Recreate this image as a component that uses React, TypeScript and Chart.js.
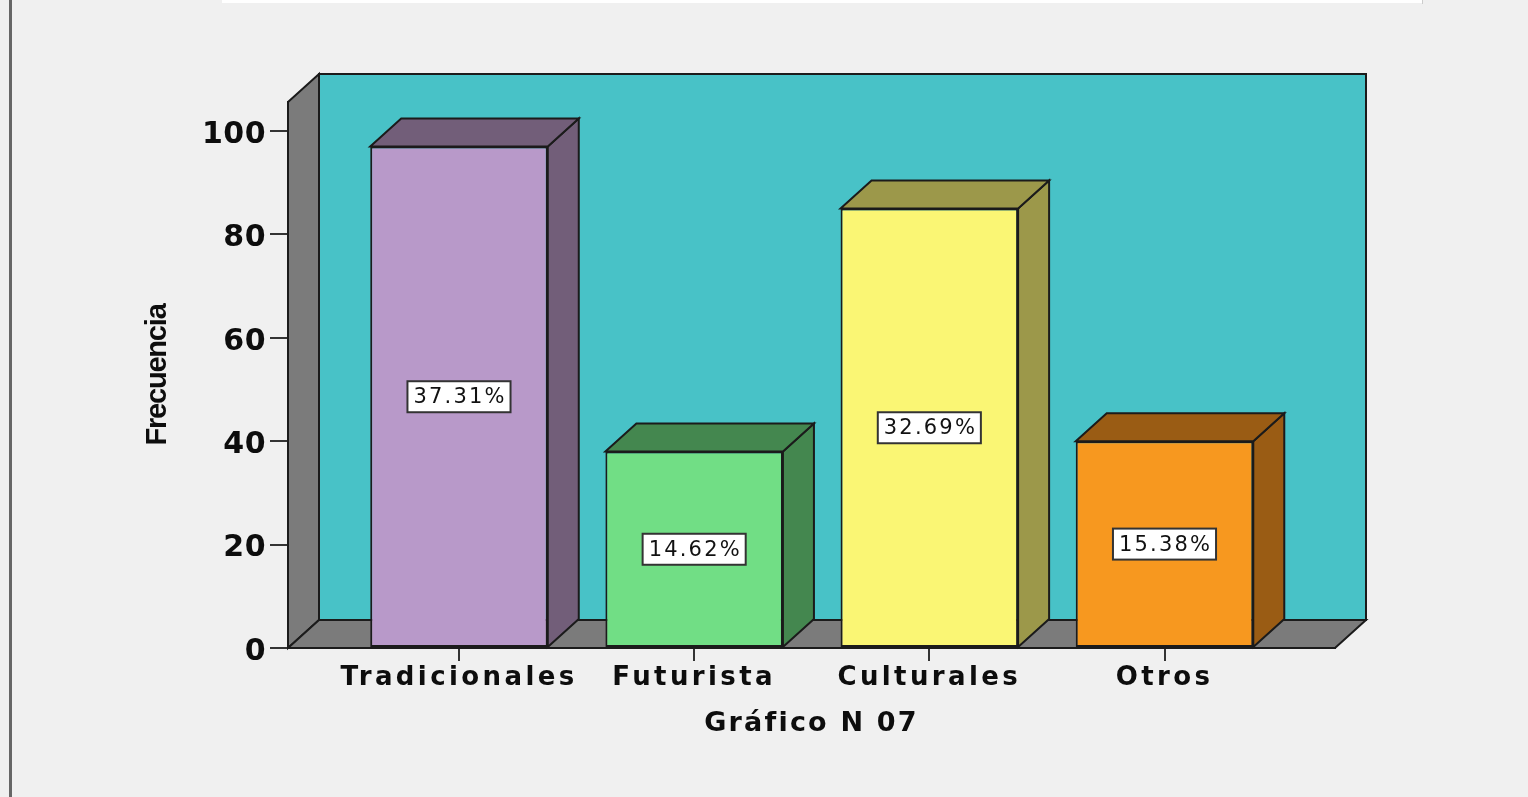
import React, { useEffect, useRef } from 'react';
import { Chart, registerables } from 'chart.js';

Chart.register(...registerables);

// ---- data ----
const categories = ['Tradicionales', 'Futurista', 'Culturales', 'Otros'];
const frequencies = [97, 38, 85, 40];
const yTickValues = [0, 20, 40, 60, 80, 100];
const frontColors = ['#B899C9', '#71DE85', '#FAF674', '#F7981F'];
const sideColors = ['#725E79', '#44874F', '#9C984A', '#9A5C14'];
const xTitle = 'Gráfico N 07';
const yTitle = 'Frecuencia';

const total = frequencies.reduce((a, b) => a + b, 0);
const percentLabels = frequencies.map((v) => ((v / total) * 100).toFixed(2) + '%');

const WIDE_FONT = "'DejaVu Sans', Verdana, sans-serif";
const NARROW_FONT = "'Liberation Sans', Arial, sans-serif";
const DEPTH_X = 31;
const DEPTH_Y = -28;
const WALL = '#48C2C7';
const SIDE_WALL = '#7B7B7B';
const EDGE = '#1b1b1b';

// letter spacing per font size (the reference text is widely tracked)
const SPACING: Record<number, number> = { 30: 0.5, 26: 3.4, 27: 2.2, 29: -1.2, 21: 2.2 };
function spacingFor(font: string): string {
  const m = /(\d+(?:\.\d+)?)px/.exec(font);
  const size = m ? parseFloat(m[1]) : 0;
  return (SPACING[size] ?? 0) + 'px';
}
function patchSpacing(ctx: any) {
  if (ctx.__spacingPatched || !('letterSpacing' in ctx)) return;
  ctx.__spacingPatched = true;
  const proto = CanvasRenderingContext2D.prototype;
  const origFill = proto.fillText;
  const origMeasure = proto.measureText;
  ctx.fillText = function (text: string, x: number, y: number, maxWidth?: number) {
    const prev = this.letterSpacing;
    this.letterSpacing = spacingFor(this.font);
    if (maxWidth === undefined) origFill.call(this, text, x, y);
    else origFill.call(this, text, x, y, maxWidth);
    this.letterSpacing = prev;
  };
  ctx.measureText = function (text: string) {
    const prev = this.letterSpacing;
    this.letterSpacing = spacingFor(this.font);
    const r = origMeasure.call(this, text);
    this.letterSpacing = prev;
    return r;
  };
}

const depthPlugin = {
  id: 'depth3d',
  beforeDraw(chart: any) {
    const { ctx, chartArea: a } = chart;
    const dx = DEPTH_X;
    const dy = DEPTH_Y;
    ctx.save();
    ctx.lineWidth = 2;
    ctx.strokeStyle = EDGE;
    ctx.lineJoin = 'miter';
    const poly = (pts: number[][], fill: string) => {
      ctx.beginPath();
      pts.forEach(([x, y], i) => (i ? ctx.lineTo(x, y) : ctx.moveTo(x, y)));
      ctx.closePath();
      ctx.fillStyle = fill;
      ctx.fill();
      ctx.stroke();
    };
    // back wall
    poly([[a.left + dx, a.top + dy], [a.right + dx, a.top + dy], [a.right + dx, a.bottom + dy], [a.left + dx, a.bottom + dy]], WALL);
    // left wall
    poly([[a.left, a.top], [a.left + dx, a.top + dy], [a.left + dx, a.bottom + dy], [a.left, a.bottom]], SIDE_WALL);
    // floor
    poly([[a.left, a.bottom], [a.left + dx, a.bottom + dy], [a.right + dx, a.bottom + dy], [a.right, a.bottom]], SIDE_WALL);
    // bar side and top faces
    const meta = chart.getDatasetMeta(0);
    meta.data.forEach((el: any, i: number) => {
      const { x, y, base, width } = el.getProps(['x', 'y', 'base', 'width'], true);
      const l = x - width / 2;
      const r = x + width / 2;
      poly([[r, y], [r + dx, y + dy], [r + dx, base + dy], [r, base]], sideColors[i]);
      poly([[l, y], [l + dx, y + dy], [r + dx, y + dy], [r, y]], sideColors[i]);
    });
    ctx.restore();
  },
};

const percentPlugin = {
  id: 'percentLabels',
  afterDatasetsDraw(chart: any) {
    const { ctx } = chart;
    const meta = chart.getDatasetMeta(0);
    ctx.save();
    ctx.font = `21px ${WIDE_FONT}`;
    const ls = 'letterSpacing' in ctx ? 2.2 : 0;
    meta.data.forEach((el: any, i: number) => {
      const { x, y, base } = el.getProps(['x', 'y', 'base'], true);
      const txt = percentLabels[i];
      const w = ctx.measureText(txt).width - ls;
      const bw = w + 12;
      const bh = 31;
      const cy = (y + base) / 2;
      ctx.fillStyle = '#ffffff';
      ctx.fillRect(x - bw / 2, cy - bh / 2, bw, bh);
      ctx.strokeStyle = '#333333';
      ctx.lineWidth = 2;
      ctx.strokeRect(x - bw / 2, cy - bh / 2, bw, bh);
      ctx.fillStyle = '#111111';
      ctx.textAlign = 'left';
      ctx.textBaseline = 'middle';
      ctx.fillText(txt, x - w / 2, cy + 1);
    });
    ctx.restore();
  },
};

export default function App() {
  const ref = useRef<HTMLCanvasElement>(null);

  useEffect(() => {
    const canvas = ref.current!;
    const ctx = canvas.getContext('2d')!;
    patchSpacing(ctx);
    const chart = new Chart(ctx, {
      type: 'bar',
      data: {
        datasets: [
          {
            data: categories.map((_, i) => ({ x: i, y: frequencies[i] })) as any,
            backgroundColor: frontColors,
            borderColor: EDGE,
            borderWidth: 2,
            borderSkipped: false,
            categoryPercentage: 0.755,
            barPercentage: 1,
          },
        ],
      },
      options: {
        responsive: false,
        devicePixelRatio: 1,
        animation: false,
        layout: { padding: { left: 0, right: 193, top: 102, bottom: 49 } },
        plugins: { legend: { display: false }, tooltip: { enabled: false } },
        scales: {
          x: {
            type: 'linear',
            min: -0.7271,
            max: 3.725,
            offset: false,
            grid: { display: true, offset: false, drawOnChartArea: false, drawTicks: true, tickLength: 13, color: '#333', lineWidth: 2 },
            border: { display: true, color: EDGE, width: 2 },
            ticks: {
              autoSkip: false,
              maxRotation: 0,
              minRotation: 0,
              padding: 2,
              color: '#0d0d0d',
              font: { family: WIDE_FONT, size: 26, weight: 'bold' },
              callback: (v: any) => categories[v as number] ?? '',
            },
            afterBuildTicks: (scale: any) => {
              scale.ticks = categories.map((_, i) => ({ value: i }));
            },
            afterFit: (scale: any) => {
              scale.height = 100;
            },
            title: {
              display: true,
              text: xTitle,
              color: '#0d0d0d',
              font: { family: WIDE_FONT, size: 27, weight: 'bold' },
              padding: { top: 0, bottom: 8 },
            },
          },
          y: {
            type: 'linear',
            min: 0,
            max: 105.6,
            grid: { display: true, drawOnChartArea: false, drawTicks: true, tickLength: 18, color: '#333', lineWidth: 2 },
            border: { display: true, color: EDGE, width: 2 },
            ticks: {
              padding: 4,
              labelOffset: 4,
              color: '#0d0d0d',
              font: { family: WIDE_FONT, size: 30, weight: 'bold' },
            },
            afterBuildTicks: (scale: any) => {
              scale.ticks = yTickValues.map((v) => ({ value: v }));
            },
            afterFit: (scale: any) => {
              scale.width = 288;
            },
            title: {
              display: true,
              text: yTitle,
              color: '#0d0d0d',
              font: { family: NARROW_FONT, size: 29, weight: 'bold' },
              padding: { top: 141, bottom: 0 },
            },
          },
        },
      } as any,
      plugins: [depthPlugin, percentPlugin],
    });
    return () => chart.destroy();
  }, []);

  return (
    <div style={{ position: 'fixed', left: 0, top: 0, width: 1528, height: 797, background: '#F0F0F0', overflow: 'hidden' }}>
      <div style={{ position: 'absolute', left: 222, top: 0, width: 1200, height: 3, background: '#ffffff' }} />
      <div style={{ position: 'absolute', left: 1422, top: 0, width: 1, height: 4, background: '#cccccc' }} />
      <div style={{ position: 'absolute', left: 9, top: 0, width: 3, height: 797, background: '#666666' }} />
      <canvas ref={ref} width={1528} height={797} style={{ position: 'absolute', left: 0, top: 0, width: 1528, height: 797 }} />
    </div>
  );
}
